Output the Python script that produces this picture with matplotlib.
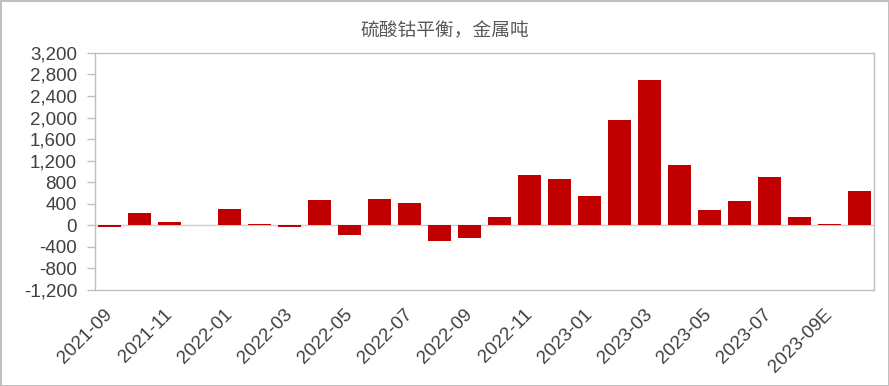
import numpy as np
import matplotlib.pyplot as plt
from matplotlib.ticker import FuncFormatter, MultipleLocator

plt.rcParams['font.family'] = ['Liberation Sans', 'Noto Sans CJK SC', 'DejaVu Sans']

# 月份（2021-09 至 2023-10E）
months = ["2021-09", "2021-10", "2021-11", "2021-12", "2022-01", "2022-02",
          "2022-03", "2022-04", "2022-05", "2022-06", "2022-07", "2022-08",
          "2022-09", "2022-10", "2022-11", "2022-12", "2023-01", "2023-02",
          "2023-03", "2023-04", "2023-05", "2023-06", "2023-07", "2023-08",
          "2023-09E", "2023-10E"]
balance = [-25, 230, 56, 5, 298, 19, -31, 466, -186, 484, 410, -292,
           -242, 149, 932, 857, 540, 1957, 2702, 1118, 280, 447, 894, 149,
           19, 634]

fig = plt.figure(figsize=(8.89, 3.86), dpi=100)
fig.patch.set_edgecolor('#bfbfbf')
fig.patch.set_linewidth(2)
ax = fig.add_axes([0.107, 0.249, 0.876, 0.614])

x = np.arange(len(months))
ax.bar(x, balance, width=0.77, color='#c00000', zorder=3)
ax.axhline(0, color='#d0d0d0', lw=1, zorder=2)

ax.set_xlim(-0.48, len(months) - 0.51)
ax.set_ylim(-1200, 3200)
ax.yaxis.set_major_locator(MultipleLocator(400))
ax.yaxis.set_major_formatter(FuncFormatter(lambda v, p: f"{int(v):,}"))

for s in ax.spines.values():
    s.set_color('#bfbfbf')
    s.set_linewidth(1)
ax.tick_params(axis='y', colors='#bfbfbf', labelcolor='#404040',
               labelsize=13.5, length=6, width=1, pad=7)
ax.tick_params(axis='x', length=0, labelsize=13.5, labelcolor='#404040', pad=16)

ax.set_xticks(x[::2])
ax.set_xticklabels(months[::2], rotation=45, ha='right', va='center',
                   rotation_mode='anchor')

fig.text(0.5, 0.92, "硫酸钴平衡，金属吨", ha='center', va='center',
         fontsize=13.5, color='#595959', family=['Noto Sans CJK SC', 'DejaVu Sans'])

fig.savefig("out.png", dpi=100, edgecolor=fig.patch.get_edgecolor())
